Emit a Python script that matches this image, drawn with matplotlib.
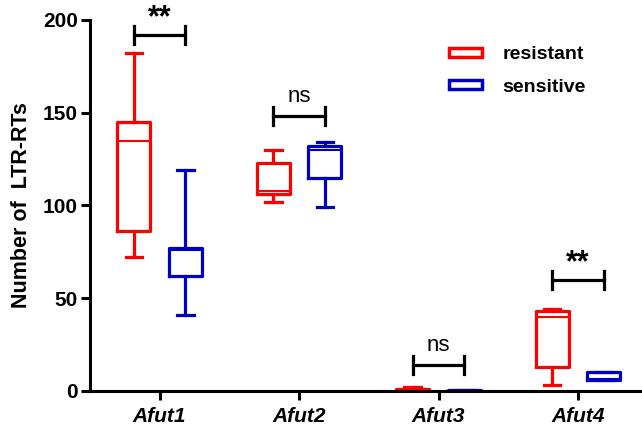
import matplotlib.pyplot as plt
from matplotlib.patches import Patch

plt.rcParams['font.family'] = ['Liberation Sans', 'DejaVu Sans']

genes = ['Afut1', 'Afut2', 'Afut3', 'Afut4']
groups = ['resistant', 'sensitive']
colors = ['#FF0000', '#0000C0']

# (min, q1, median, q3, max) per gene
resistant = [(72, 86, 135, 145, 182),
             (102, 106, 108, 123, 130),
             (0, 0, 0, 1, 2),
             (3, 13, 40, 43, 44)]
sensitive = [(41, 62, 76, 77, 119),
             (99, 115, 130, 132, 134),
             (0, 0, 0.3, 0.5, 0.5),
             (6, 6, 6.5, 10, 10)]

sig_labels = ['**', 'ns', 'ns', '**']
sig_heights = [192, 148, 14, 60]

offset = 0.185
width = 0.237

fig = plt.figure(figsize=(6.42, 4.33), dpi=100)
ax = fig.add_axes([0.14, 0.097, 0.858, 0.857])

for data, col, sh in zip([resistant, sensitive], colors, [-offset, offset]):
    stats = []
    for s in data:
        stats.append(dict(whislo=s[0], q1=s[1], med=s[2], q3=s[3], whishi=s[4]))
    pos = [i + sh for i in range(len(genes))]
    lp = dict(color=col, linewidth=2.3)
    ax.bxp(stats, positions=pos, widths=width, showfliers=False,
           boxprops=lp, whiskerprops=lp, capprops=lp,
           medianprops=dict(color=col, linewidth=1.5), capwidths=width * 0.5)

for i, (lab, h) in enumerate(zip(sig_labels, sig_heights)):
    x1, x2 = i - offset, i + offset
    ax.plot([x1, x2], [h, h], color='black', lw=2.3, clip_on=False)
    ax.plot([x1, x1], [h - 4.8, h + 4.8], color='black', lw=2.3, clip_on=False)
    ax.plot([x2, x2], [h - 4.8, h + 4.8], color='black', lw=2.3, clip_on=False)
    if lab == '**':
        ax.text(i, h + 1, lab, ha='center', va='bottom', fontsize=22, fontweight='bold')
    else:
        ax.text(i, h + 5, lab, ha='center', va='bottom', fontsize=16)

ax.set_xlim(-0.5, 3.45)
ax.set_ylim(0, 200)
ax.set_yticks([0, 50, 100, 150, 200])
ax.set_xticks(range(len(genes)))
ax.set_xticklabels(genes, fontsize=15, fontweight='bold', fontstyle='italic')
for t in ax.get_yticklabels():
    t.set_fontweight('bold')
    t.set_fontsize(15)
ax.set_ylabel('Number of  LTR-RTs', fontsize=15.5, fontweight='bold', labelpad=8)
ax.spines['top'].set_visible(False)
ax.spines['right'].set_visible(False)
ax.spines['left'].set_linewidth(2.2)
ax.spines['bottom'].set_linewidth(2.2)
ax.tick_params(width=2.2, length=6.5, pad=2)
ax.tick_params(axis='x', pad=5)

handles = [Patch(facecolor='white', edgecolor=c, linewidth=2.5) for c in colors]
ax.legend(handles, groups, loc='upper left', bbox_to_anchor=(0.62, 0.976),
          frameon=False, prop=dict(weight='bold', size=14),
          handlelength=1.7, handleheight=0.35, labelspacing=0.8, handletextpad=1.05)

fig.savefig('out.png', dpi=100)
